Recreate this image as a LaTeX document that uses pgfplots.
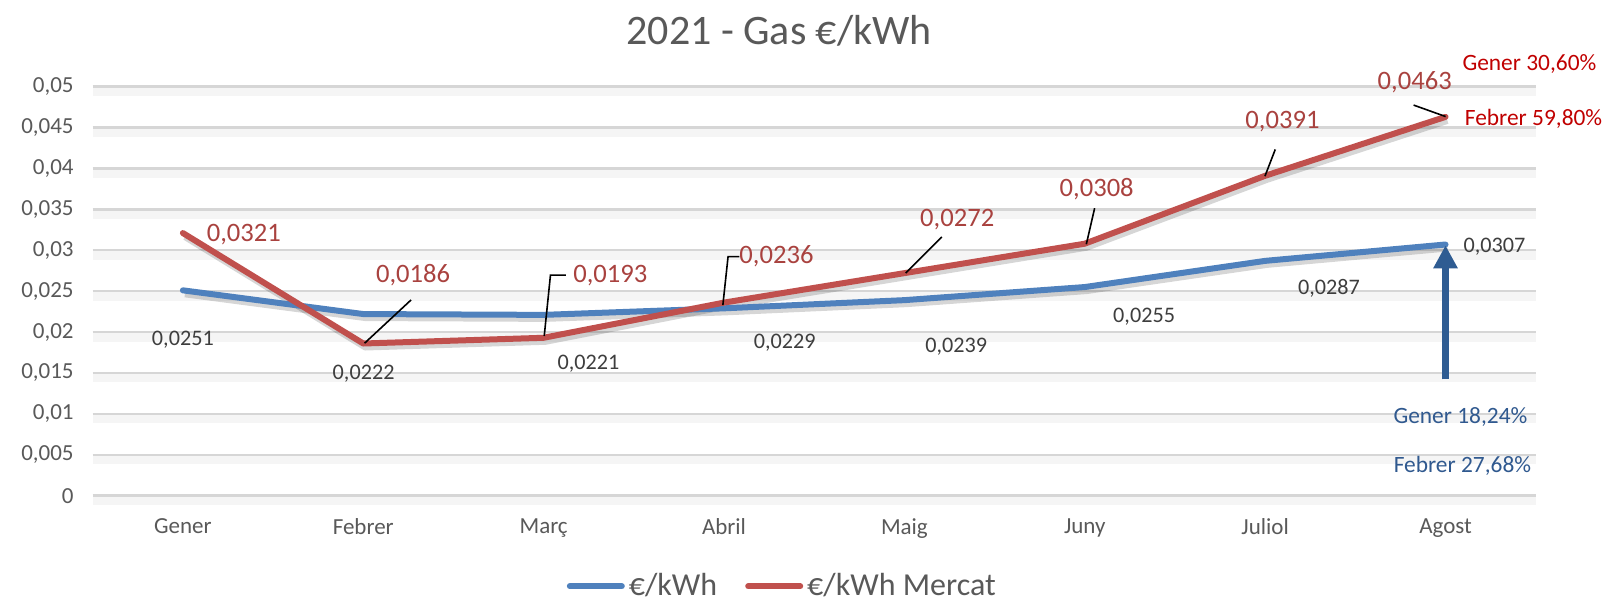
\documentclass[border=0pt]{standalone}
\usepackage{fontspec}
\setmainfont{Carlito}
\usepackage{pgfplots}
\pgfplotsset{compat=1.18}
\usetikzlibrary{arrows.meta}
\definecolor{bl}{HTML}{4F81BD}
\definecolor{rd}{HTML}{C0504D}
\definecolor{rdtxt}{HTML}{A9423F}
\definecolor{txt}{HTML}{595959}
\definecolor{arr}{HTML}{2F5C92}
\definecolor{annred}{HTML}{C00000}
\definecolor{annblue}{HTML}{30598F}
\begin{document}
\begin{tikzpicture}
\path[use as bounding box] (0,0) rectangle (808pt,301.5pt);
\begin{axis}[
  at={(46.35pt,53.65pt)}, anchor=south west,
  scale only axis, width=721.5pt, height=204.55pt,
  xmin=-0.5, xmax=7.5, ymin=0, ymax=0.05,
  xtick={0,1,2,3,4,5,6,7},
  xticklabels={Gener,Febrer,Març,Abril,Maig,Juny,Juliol,Agost},
  ytick={0,0.005,0.01,0.015,0.02,0.025,0.03,0.035,0.04,0.045,0.05},
  scaled y ticks=false,
  yticklabel style={/pgf/number format/fixed, /pgf/number format/precision=3,
    /pgf/number format/use comma, /pgf/number format/assume math mode=true, xshift=-6pt},
  xticklabel style={yshift=-8pt},
  tick label style={font=\fontsize{11.5}{13}\selectfont, text=txt},
  axis line style={draw=none},
  major tick length=0pt,
  ymajorgrids,
  major grid style={draw=black!16, line width=1.2pt,
    preaction={draw=black!4, line width=4.5pt, transform canvas={yshift=-2.5pt}}},
  clip=false,
  legend columns=2,
  legend style={at={(0.4786,-0.2215)}, anchor=center, draw=none, fill=none,
    font=\fontsize{16}{19}\selectfont, text=txt, inner sep=1pt,
    /tikz/every even column/.append style={column sep=12pt}},
  legend image code/.code={\draw[line width=3pt, line cap=round, #1] (0pt,0pt) -- (26pt,0pt);},
]
% shadows
\addplot[forget plot, black, opacity=0.16, line width=3pt, line join=round, xshift=1pt, yshift=-2pt]
  coordinates {(0,0.0251) (1,0.0222) (2,0.0221) (3,0.0229) (4,0.0239) (5,0.0255) (6,0.0287) (7,0.0307)};
\addplot[forget plot, black, opacity=0.16, line width=3pt, line join=round, xshift=1pt, yshift=-2pt]
  coordinates {(0,0.0321) (1,0.0186) (2,0.0193) (3,0.0236) (4,0.0272) (5,0.0308) (6,0.0391) (7,0.0463)};
% series
\addplot[bl, line width=3pt, line join=round, line cap=round]
  coordinates {(0,0.0251) (1,0.0222) (2,0.0221) (3,0.0229) (4,0.0239) (5,0.0255) (6,0.0287) (7,0.0307)};
\addlegendentry{€/kWh}
\addplot[rd, line width=3pt, line join=round, line cap=round]
  coordinates {(0,0.0321) (1,0.0186) (2,0.0193) (3,0.0236) (4,0.0272) (5,0.0308) (6,0.0391) (7,0.0463)};
\addlegendentry{€/kWh Mercat}
% leader lines
\draw[black, line width=0.8pt] (axis cs:1.0075,0.01864) -- (axis cs:1.2652,0.02393);
\draw[black, line width=0.8pt] (axis cs:2.0033,0.01952) -- (axis cs:2.0378,0.02695) -- (axis cs:2.1239,0.02695);
\draw[black, line width=0.8pt] (axis cs:2.9936,0.02330) -- (axis cs:3.0225,0.02922) -- (axis cs:3.0853,0.02922);
\draw[black, line width=0.8pt] (axis cs:4.0067,0.02721) -- (axis cs:4.2072,0.03162);
\draw[black, line width=0.8pt] (axis cs:5.0086,0.03073) -- (axis cs:5.0547,0.03514);
\draw[black, line width=0.8pt] (axis cs:5.9989,0.03905) -- (axis cs:6.0561,0.04232);
\draw[black, line width=0.8pt] (axis cs:7.0003,0.04634) -- (axis cs:6.8231,0.04774);
% blue labels
\begin{scope}[every node/.style={font=\fontsize{11.1}{13}\selectfont, text=txt!70!black}]
\node at (axis cs:0,0.01902) {0,0251};
\node at (axis cs:1.002,0.01486) {0,0222};
\node at (axis cs:2.249,0.01612) {0,0221};
\node at (axis cs:3.337,0.01864) {0,0229};
\node at (axis cs:4.287,0.01826) {0,0239};
\node at (axis cs:5.329,0.02191) {0,0255};
\node at (axis cs:6.354,0.02531) {0,0287};
\node[anchor=west, inner sep=0pt] at (axis cs:7.098,0.03048) {0,0307};
\end{scope}
% red labels
\begin{scope}[every node/.style={font=\fontsize{13.3}{15}\selectfont, text=rdtxt}]
\node at (axis cs:0.338,0.03186) {0,0321};
\node at (axis cs:1.276,0.02695) {0,0186};
\node at (axis cs:2.370,0.02695) {0,0193};
\node at (axis cs:3.291,0.02922) {0,0236};
\node at (axis cs:4.293,0.03376) {0,0272};
\node at (axis cs:5.066,0.03741) {0,0308};
\node at (axis cs:6.096,0.04572) {0,0391};
\node at (axis cs:6.829,0.05051) {0,0463};
\end{scope}
% arrow
\draw[arr, line width=3.5pt, -{Triangle[length=11.5pt,width=11.5pt]}] (axis cs:7,0.01423) -- (axis cs:7,0.0306);
\end{axis}
\node[font=\fontsize{21}{25}\selectfont, text=txt] at (389.6pt,286.05pt) {2021 - Gas €/kWh};
\node[font=\fontsize{11.7}{14}\selectfont, text=annred] at (764.7pt,269.55pt) {Gener 30,60\%};
\node[font=\fontsize{11.7}{14}\selectfont, text=annred] at (766.75pt,242.25pt) {Febrer 59,80\%};
\node[font=\fontsize{11.7}{14}\selectfont, text=annblue] at (730.2pt,92.8pt) {Gener 18,24\%};
\node[font=\fontsize{11.7}{14}\selectfont, text=annblue] at (731.2pt,68.6pt) {Febrer 27,68\%};
\end{tikzpicture}
\end{document}
